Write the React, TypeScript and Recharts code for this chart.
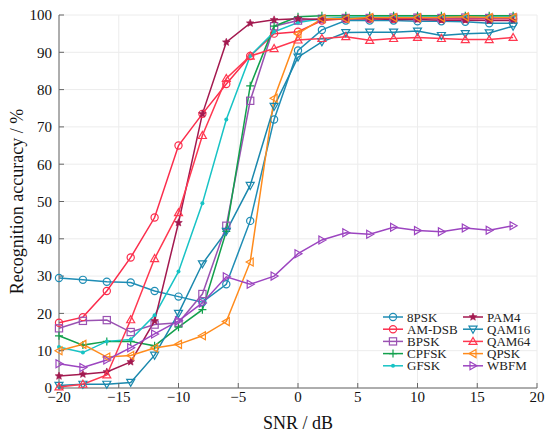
import React from "react";
import {
  LineChart,
  Line,
  XAxis,
  YAxis,
  CartesianGrid,
  Legend,
} from "recharts";

const snr = [-20, -18, -16, -14, -12, -10, -8, -6, -4, -2, 0, 2, 4, 6, 8, 10, 12, 14, 16, 18];

const psk8 = [29.5, 29, 28.5, 28.3, 26, 24.5, 23, 27.8, 44.8, 72, 90.5, 96, 98.5, 98.5, 98.5, 98.3, 98.3, 98.2, 97.8, 97.8];
const amDsb = [17.5, 19, 26, 35, 45.7, 65, 73.5, 81.5, 89, 95, 95.5, 98.5, 99, 99, 99, 99.2, 99, 99, 99, 99];
const bpsk = [16, 18, 18.2, 15, 17, 17.5, 25.2, 43.5, 77, 97, 98.5, 99, 99.2, 99.2, 99.3, 99.3, 99.2, 99.3, 99.2, 99.3];
const cpfsk = [14, 11.5, 12.5, 12.5, 11.3, 16.3, 21, 42, 81, 97, 99.5, 99.8, 99.8, 99.8, 99.8, 99.8, 99.8, 99.8, 99.8, 99.8];
const gfsk = [11, 9.5, 12.5, 13, 19.5, 31.2, 49.5, 72, 89, 95.5, 98, 99, 99.3, 99.5, 99.5, 99.5, 99.5, 99.5, 99.5, 99.5];
const pam4 = [3.2, 3.7, 4.3, 7, 18, 44.3, 73.5, 92.7, 97.8, 98.7, 99, 98.8, 99, 99, 98.8, 98.8, 98.6, 98.6, 98.5, 98.5];
const qam16 = [0.7, 1, 1, 1.5, 8.8, 20, 33.3, 42, 54.3, 75.5, 88.7, 92.8, 95.3, 95.4, 95.4, 95.7, 94.5, 95, 95.2, 97];
const qam64 = [0.3, 1, 3.5, 18.3, 34.7, 47, 67.7, 83, 89, 91, 93.3, 93.7, 94.2, 93.2, 93.7, 94, 93.7, 93.4, 93.4, 94];
const qpsk = [10, 11.7, 8.3, 8.7, 10.7, 11.7, 14, 17.8, 33.8, 77.7, 95, 99, 99, 99.3, 99.3, 99.3, 99.3, 99.5, 99.3, 99.3];
const wbfm = [6.5, 5.5, 7.5, 10.8, 14.5, 18, 22.8, 29.8, 27.8, 30, 36, 39.7, 41.6, 41.2, 43.1, 42.2, 41.9, 42.9, 42.3, 43.5];

const xTicks = [-20, -15, -10, -5, 0, 5, 10, 15, 20];
const yTicks = [0, 10, 20, 30, 40, 50, 60, 70, 80, 90, 100];

const seriesList = [
  { key: "8PSK", values: psk8, color: "#1f8db5", shape: "circle" },
  { key: "AM-DSB", values: amDsb, color: "#fb2d4c", shape: "circle" },
  { key: "BPSK", values: bpsk, color: "#9a52b2", shape: "square" },
  { key: "CPFSK", values: cpfsk, color: "#12a04c", shape: "plus" },
  { key: "GFSK", values: gfsk, color: "#17c3c5", shape: "dot" },
  { key: "PAM4", values: pam4, color: "#a3194f", shape: "star" },
  { key: "QAM16", values: qam16, color: "#1a88ad", shape: "tdown" },
  { key: "QAM64", values: qam64, color: "#ff3850", shape: "tup" },
  { key: "QPSK", values: qpsk, color: "#ff8b1c", shape: "tleft" },
  { key: "WBFM", values: wbfm, color: "#9c45c0", shape: "tright" },
];

const data = snr.map((s, i) => {
  const row: Record<string, number> = { snr: s };
  seriesList.forEach((sr) => {
    row[sr.key] = sr.values[i];
  });
  return row;
});

const shapeOf: Record<string, string> = {};
seriesList.forEach((s) => (shapeOf[s.key] = s.shape));

function Marker({ shape, cx, cy, color }: { shape: string; cx: number; cy: number; color: string }) {
  const sw = 1.2;
  const r = 3.6;
  switch (shape) {
    case "circle":
      return <circle cx={cx} cy={cy} r={r} fill="none" stroke={color} strokeWidth={sw} />;
    case "square":
      return <rect x={cx - r} y={cy - r} width={r * 2} height={r * 2} fill="none" stroke={color} strokeWidth={sw} />;
    case "plus":
      return <path d={`M${cx - 4},${cy}H${cx + 4}M${cx},${cy - 4}V${cy + 4}`} stroke={color} strokeWidth={sw} />;
    case "dot":
      return <circle cx={cx} cy={cy} r={2} fill={color} />;
    case "star": {
      const pts: string[] = [];
      for (let k = 0; k < 10; k++) {
        const a = -Math.PI / 2 + (k * Math.PI) / 5;
        const rr = k % 2 === 0 ? 4 : 1.8;
        pts.push(`${cx + rr * Math.cos(a)},${cy + rr * Math.sin(a)}`);
      }
      return <polygon points={pts.join(" ")} fill={color} stroke={color} strokeWidth={0.6} />;
    }
    case "tdown":
      return <polygon points={`${cx - 4},${cy - 3} ${cx + 4},${cy - 3} ${cx},${cy + 4}`} fill="none" stroke={color} strokeWidth={sw} />;
    case "tup":
      return <polygon points={`${cx - 4},${cy + 3} ${cx + 4},${cy + 3} ${cx},${cy - 4}`} fill="none" stroke={color} strokeWidth={sw} />;
    case "tleft":
      return <polygon points={`${cx + 3},${cy - 4} ${cx + 3},${cy + 4} ${cx - 4},${cy}`} fill="none" stroke={color} strokeWidth={sw} />;
    case "tright":
      return <polygon points={`${cx - 3},${cy - 4} ${cx - 3},${cy + 4} ${cx + 4},${cy}`} fill="none" stroke={color} strokeWidth={sw} />;
    default:
      return null;
  }
}

function LegendBox({ payload }: { payload?: { value: string; color: string }[] }) {
  if (!payload) return null;
  const rowH = 12.2;
  const colW = 80;
  return (
    <svg width={170} height={68} style={{ overflow: "visible", display: "block" }}>
      {payload.map((p, i) => {
        const col = Math.floor(i / 5);
        const row = i % 5;
        const x = col * colW;
        const y = row * rowH + 6;
        return (
          <g key={p.value}>
            <line x1={x} x2={x + 20} y1={y} y2={y} stroke={p.color} strokeWidth={1.5} />
            <Marker shape={shapeOf[p.value]} cx={x + 10} cy={y} color={p.color} />
            <text x={x + 24} y={y + 4.5} fontSize={13} fill="#222" fontFamily="'Liberation Serif', serif">
              {p.value}
            </text>
          </g>
        );
      })}
    </svg>
  );
}

const font = "'Liberation Serif', 'Times New Roman', serif";

export default function App() {
  return (
    <div style={{ position: "absolute", left: 0, top: 0, background: "#fff" }}>
      <LineChart width={550} height={435} data={data} margin={{ top: 15, right: 13, bottom: 0, left: 0 }}>
        <CartesianGrid stroke="#ececec" strokeWidth={1} />
        <XAxis
          dataKey="snr"
          type="number"
          domain={[-20, 20]}
          ticks={xTicks}
          tickFormatter={(v: number) => (v < 0 ? `\u2212${-v}` : `${v}`)}
          tick={{ fontSize: 15, fill: "#111", fontFamily: font }}
          tickSize={-5}
          tickMargin={8}
          stroke="#666"
          height={47}
          label={{
            value: "SNR / dB",
            position: "insideBottom",
            offset: 6,
            style: { fontSize: 18, fill: "#111", fontFamily: font },
          }}
        />
        <XAxis xAxisId="top" dataKey="snr" type="number" domain={[-20, 20]} orientation="top" tick={false} tickLine={false} height={0} stroke="#777" />
        <YAxis
          type="number"
          domain={[0, 100]}
          ticks={yTicks}
          tick={{ fontSize: 15, fill: "#111", fontFamily: font }}
          tickSize={-5}
          tickMargin={12}
          stroke="#666"
          width={59}
          label={{
            value: "Recognition accuracy / %",
            angle: -90,
            position: "insideLeft",
            offset: 17,
            style: { textAnchor: "middle", fontSize: 18, fill: "#111", fontFamily: font },
          }}
        />
        <YAxis yAxisId="right" orientation="right" domain={[0, 100]} tick={false} tickLine={false} width={0} stroke="#777" />
        <Legend
          layout="horizontal"
          align="center"
          verticalAlign="middle"
          content={<LegendBox />}
          wrapperStyle={{ position: "absolute", left: 383, top: 311, width: 170, height: 68 }}
        />
        {seriesList.map((s) => (
          <Line
            key={s.key}
            dataKey={s.key}
            name={s.key}
            stroke={s.color}
            strokeWidth={1.5}
            isAnimationActive={false}
            dot={(p: any) => <Marker key={`${s.key}-${p.index}`} shape={s.shape} cx={p.cx} cy={p.cy} color={s.color} />}
          />
        ))}
      </LineChart>
    </div>
  );
}
